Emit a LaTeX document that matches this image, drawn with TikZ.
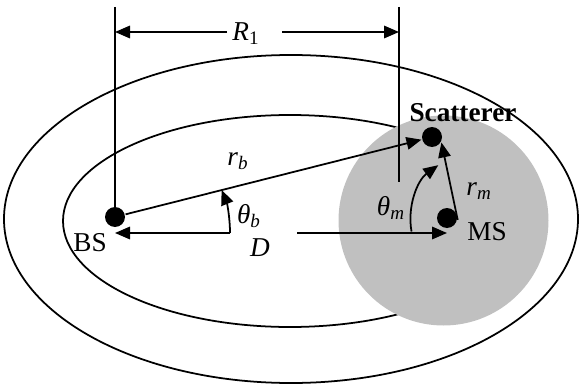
\documentclass[tikz,border=0pt]{standalone}
\usepackage{fontspec}
\setmainfont{Liberation Serif}
\usetikzlibrary{arrows.meta,positioning,calc}
\definecolor{zone}{RGB}{192,192,192}

\begin{document}
\begin{tikzpicture}[
  dot/.style={circle,fill=black,inner sep=0pt,minimum size=0.4cm},
  arr/.style={-{Triangle[length=0.3cm,width=0.25cm]},line width=1pt},
  lbl/.style={font=\fontsize{15.5}{18}\selectfont,inner sep=1pt},
  line width=1pt
]
\useasboundingbox (0,0) rectangle (11.6,7.7);
% inner ring, scattering disc, outer ring
\draw (5.80,3.28) ellipse [x radius=4.54,y radius=2.12];
\fill[zone] (8.87,3.29) circle [radius=2.10];
\node[lbl,font=\fontsize{15.5}{18}\selectfont\bfseries] (scname) at (9.26,5.44) {Scatterer};
\draw (5.82,3.32) ellipse [x radius=5.74,y radius=3.28];

\node[dot] (bs) at (2.30,3.36) {};
\node[dot] (sc) at (8.64,4.96) {};
\node[dot] (ms) at (8.94,3.34) {};

\coordinate (lt) at (2.30,7.56);
\coordinate (rt) at (7.98,7.56);
\coordinate (rbot) at (7.98,4.06);
\draw (lt) -- (bs.center);
\draw (rt) -- (rbot);

% R1 dimension
\coordinate (r1l) at (4.54,7.06);
\coordinate (r1r) at (5.64,7.06);
\draw[arr] (r1l) -- (lt |- r1l);
\draw[arr] (r1r) -- (rt |- r1r);
\node[lbl] (rone) at (4.92,7.02) {\textit{R}\textsubscript{1}};

% D dimension
\coordinate (dl) at (4.60,3.04);
\coordinate (dr) at (5.94,3.04);
\draw[arr] (dl) -- (bs |- dl);
\draw[arr] (dr) -- (ms |- dr);
\node[lbl] (dist) at (5.20,2.74) {\textit{D}};

\draw[arr] (bs) -- (sc);
\draw[arr] (ms.-10) -- (sc.-30);
\draw[arr] (dl) arc [start angle=0,end angle=22,radius=2.3];
\coordinate (thm) at (8.23,3.07);
\draw[arr] (thm) arc [start angle=190,end angle=126,radius=1.35];

\node[lbl] (bsname) at (1.80,2.84) {BS};
\node[lbl] (msname) at (9.74,3.06) {MS};
\node[lbl] (rbl) at (4.76,4.48) {\textit{r}\textsubscript{\textit{b}}};
\node[lbl] (thbl) at (4.98,3.38) {\textit{θ}\textsubscript{\textit{b}}};
\node[lbl] (thml) at (7.82,3.54) {\textit{θ}\textsubscript{\textit{m}}};
\node[lbl] (rml) at (9.58,3.88) {\textit{r}\textsubscript{\textit{m}}};
\end{tikzpicture}
\end{document}
